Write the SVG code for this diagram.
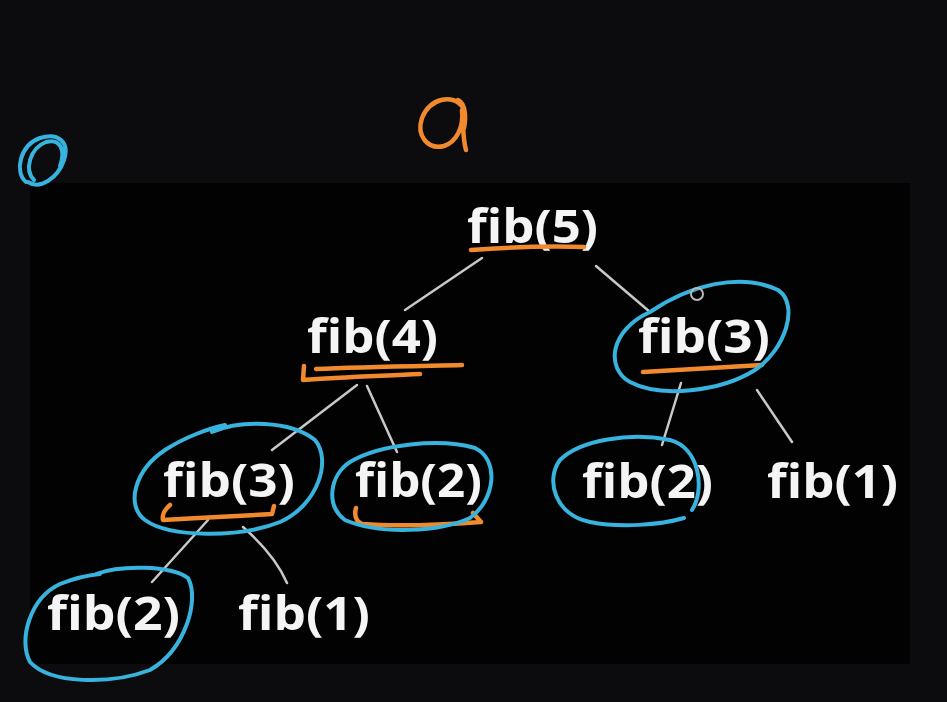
<svg xmlns="http://www.w3.org/2000/svg" width="947" height="702" viewBox="0 0 947 702">
<style>
.lbl{font-family:"Open Sans","Liberation Sans",sans-serif;font-weight:700;font-size:47px;fill:#f4f4f4}
.edge{stroke:#c8c8c8;stroke-width:2.5;fill:none;stroke-linecap:round}
.blue{stroke:#37b3dd;stroke-width:4;fill:none;stroke-linecap:round}
.orange{stroke:#f08a2c;stroke-width:4.5;fill:none;stroke-linecap:round;stroke-linejoin:round}
</style>
<rect x="0" y="0" width="947" height="702" fill="#0c0b0e"/>
<rect x="30" y="183" width="880" height="481" fill="#020202"/>
<g id="marks">
<path class="blue" d="M26,182 C14,172 20,145 40,138 C58,132 70,142 64,160 C58,178 40,190 28,182 M34,180 C24,170 30,148 46,142 C60,138 66,150 60,166"/>
<path class="orange" d="M462,106 C452,94 430,98 422,118 C416,136 428,150 444,146 C456,142 464,128 462,110 C464,122 462,136 466,150 M458,100 C466,104 466,118 464,128"/>
</g>
<g id="connectors">
<line class="edge" x1="482" y1="258" x2="405" y2="310"/>
<line class="edge" x1="596" y1="266" x2="650" y2="312"/>
<line class="edge" x1="357" y1="385" x2="272" y2="450"/>
<line class="edge" x1="367" y1="386" x2="397" y2="452"/>
<line class="edge" x1="681" y1="383" x2="662" y2="445"/>
<line class="edge" x1="757" y1="390" x2="792" y2="442"/>
<line class="edge" x1="208" y1="520" x2="152" y2="582"/>
<path class="edge" d="M243,527 Q275,555 287,583"/>
</g>
<g id="n-fib5">
<text class="lbl" x="467" y="243" textLength="131" lengthAdjust="spacingAndGlyphs">fib(5)</text>
<path class="orange" d="M471,250 C510,247 550,246 584,247"/>
</g>
<g id="n-fib4">
<text class="lbl" x="307" y="353" textLength="131" lengthAdjust="spacingAndGlyphs">fib(4)</text>
<path class="orange" d="M304,366 L303,380 C340,377 380,376 420,374 M316,369 C360,367 420,366 462,365"/>
</g>
<g id="n-fib3r">
<text class="lbl" x="638" y="353" textLength="132" lengthAdjust="spacingAndGlyphs">fib(3)</text>
<path class="orange" d="M643,372 C690,369 730,367 762,365"/>
<path class="blue" d="M650,312 C690,285 740,272 778,290 C800,305 785,350 755,370 C720,392 660,398 630,382 C605,368 610,330 650,312"/>
<circle cx="697" cy="294" r="6" fill="none" stroke="#b8b8b8" stroke-width="2"/>
</g>
<g id="n-fib3l">
<text class="lbl" x="163" y="497" textLength="132" lengthAdjust="spacingAndGlyphs">fib(3)</text>
<path class="orange" d="M170,505 C164,510 162,516 163,520 C200,518 240,516 272,514 L274,506"/>
<path class="blue" d="M212,432 C240,420 290,420 315,440 C332,460 318,505 280,522 C240,538 170,538 145,520 C125,505 135,470 165,450 C185,437 210,428 225,425"/>
</g>
<g id="n-fib2m">
<text class="lbl" x="355" y="497" textLength="127" lengthAdjust="spacingAndGlyphs">fib(2)</text>
<path class="orange" d="M356,508 C354,515 356,522 362,524 C400,527 440,525 481,522 L473,513"/>
<path class="blue" d="M350,462 C380,444 440,438 475,448 C500,460 495,500 470,518 C440,532 380,535 345,520 C325,505 330,475 350,462"/>
</g>
<g id="n-fib2r">
<text class="lbl" x="582" y="498" textLength="131" lengthAdjust="spacingAndGlyphs">fib(2)</text>
<path class="blue" d="M692,510 C705,490 700,448 670,440 C630,432 580,440 560,460 C545,480 555,515 590,522 C620,528 660,525 684,518"/>
</g>
<g id="n-fib1r">
<text class="lbl" x="767" y="498" textLength="131" lengthAdjust="spacingAndGlyphs">fib(1)</text>
</g>
<g id="n-fib2b">
<text class="lbl" x="47" y="630" textLength="133" lengthAdjust="spacingAndGlyphs">fib(2)</text>
<path class="blue" d="M96,574 C120,565 170,565 188,578 C200,600 185,650 150,670 C110,685 50,684 30,662 C18,640 30,598 60,584 C75,578 90,575 100,574"/>
</g>
<g id="n-fib1b">
<text class="lbl" x="238" y="630" textLength="132" lengthAdjust="spacingAndGlyphs">fib(1)</text>
</g>
</svg>
